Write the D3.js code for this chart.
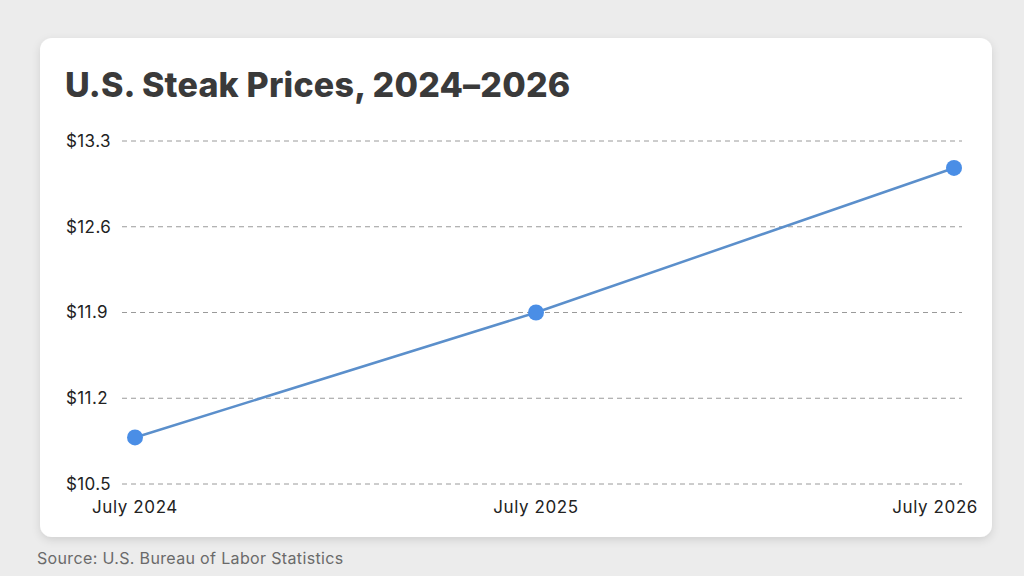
<!DOCTYPE html>
<html>
<head>
<meta charset="utf-8">
<script src="https://cdn.jsdelivr.net/npm/d3@7/dist/d3.min.js"></script>
<style>
  html, body { margin: 0; padding: 0; background: #ececec; }
  svg { display: block; font-family: Inter, "Noto Sans", sans-serif; }
</style>
</head>
<body>
<div id="chart"></div>
<script>
var months = ["July 2024", "July 2025", "July 2026"];
var prices = [10.88, 11.9, 13.08];
var yTicks = [10.5, 11.2, 11.9, 12.6, 13.3];

var width = 1024, height = 576;
var svg = d3.select("#chart").append("svg")
  .attr("width", width).attr("height", height);

var defs = svg.append("defs");
var f = defs.append("filter").attr("id", "shadow")
  .attr("x", "-5%").attr("y", "-5%").attr("width", "110%").attr("height", "115%");
f.append("feDropShadow").attr("dx", 0).attr("dy", 3).attr("stdDeviation", 4)
  .attr("flood-color", "#000").attr("flood-opacity", 0.12);

// card
svg.append("rect")
  .attr("x", 40).attr("y", 38).attr("width", 952).attr("height", 499)
  .attr("rx", 12).attr("fill", "#fff").attr("filter", "url(#shadow)");

svg.append("text")
  .attr("x", 65).attr("y", 97)
  .attr("font-size", 34).attr("font-weight", 800).attr("fill", "#3a3a3a")
  .attr("letter-spacing", "0.2")
  .text("U.S. Steak Prices, 2024\u20132026");

// index -> x, spacing
var x = d3.scaleLinear().domain([0, 1, 2]).range([135, 536, 954]);
var y = d3.scaleLinear().domain([10.5, 13.3]).range([484, 141]);

// grid
svg.append("g").selectAll("line").data(yTicks).enter().append("line")
  .attr("x1", 122).attr("x2", 962)
  .attr("y1", function(d){ return y(d); }).attr("y2", function(d){ return y(d); })
  .attr("stroke", "#9a9a9a").attr("stroke-width", 1)
  .attr("stroke-dasharray", "5,4");

// y labels
svg.append("g").selectAll("text").data(yTicks).enter().append("text")
  .attr("x", 66).attr("y", function(d){ return y(d); })
  .attr("dy", "0.35em")
  .attr("font-size", 17).attr("letter-spacing", "0.4").attr("fill", "#222")
  .text(function(d){ return "$" + d.toFixed(1); });

// x labels
svg.append("g").selectAll("text").data(months).enter().append("text")
  .attr("x", function(d, i){ return i == months.length - 1 ? x(i) + 24 : x(i); })
  .attr("y", 513)
  .attr("text-anchor", function(d, i){ return i == months.length - 1 ? "end" : "middle"; })
  .attr("font-size", 17).attr("letter-spacing", "0.6").attr("fill", "#222")
  .text(function(d){ return d; });

var line = d3.line()
  .x(function(d, i){ return x(i); })
  .y(function(d){ return y(d); });

svg.append("path").datum(prices)
  .attr("d", line).attr("fill", "none")
  .attr("stroke", "#5b8fcb").attr("stroke-width", 2.5);

svg.append("g").selectAll("circle").data(prices).enter().append("circle")
  .attr("cx", function(d, i){ return x(i); })
  .attr("cy", function(d){ return y(d); })
  .attr("r", 8).attr("fill", "#4a8ee6");

svg.append("text")
  .attr("x", 37).attr("y", 564)
  .attr("font-size", 16).attr("letter-spacing", "0.35").attr("fill", "#6a6a6a")
  .text("Source: U.S. Bureau of Labor Statistics");
</script>
</body>
</html>
